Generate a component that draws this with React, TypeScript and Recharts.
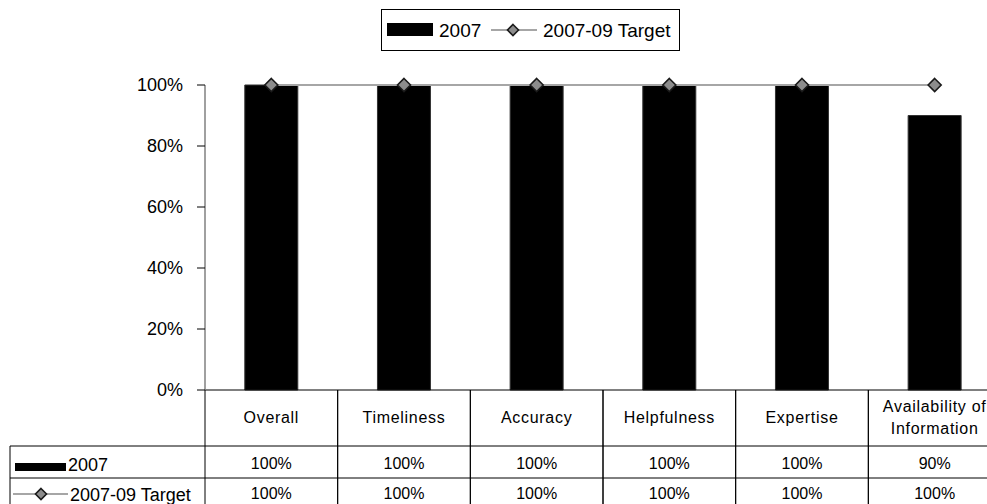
import React from "react";
import { ComposedChart, Bar, Line, XAxis, YAxis } from "recharts";

const categories = [
  "Overall",
  "Timeliness",
  "Accuracy",
  "Helpfulness",
  "Expertise",
  "Availability of Information",
];
const actual2007 = [100, 100, 100, 100, 100, 90];
const target0709 = [100, 100, 100, 100, 100, 100];
const yTicks = [0, 20, 40, 60, 80, 100];

const SERIES_BAR = "2007";
const SERIES_LINE = "2007-09 Target";

const data = categories.map((name, i) => ({
  name,
  actual: actual2007[i],
  target: target0709[i],
}));

const FONT = "'Liberation Sans', Arial, sans-serif";
const CHART_W = 1010;
const CHART_H = 504;
const MARGIN = { top: 85, right: 9, left: 145, bottom: 0 };
const Y_AXIS_W = 60;
const X_AXIS_H = 114;
const PLOT_W = CHART_W - MARGIN.left - Y_AXIS_W - MARGIN.right;
const BW = PLOT_W / categories.length;

const pct = (v: number) => `${v}%`;

const wrap = (s: string) => {
  if (s.length <= 14) return [s];
  const cut = s.lastIndexOf(" ", 16);
  return [s.slice(0, cut), s.slice(cut + 1)];
};

const Diamond = ({ cx, cy, r = 6.5 }: { cx: number; cy: number; r?: number }) => (
  <path
    d={`M${cx},${cy - r}L${cx + r},${cy}L${cx},${cy + r}L${cx - r},${cy}Z`}
    fill="#8c8c8c"
    stroke="#1a1a1a"
    strokeWidth={1.6}
  />
);

// x-axis tick doubles as a column of the data table under the plot
const TableTick = (props: any) => {
  const { x, y, payload } = props;
  const i = payload.index;
  const left = x - BW / 2;
  const right = x + BW / 2;
  const r1 = y + 56;
  const r2 = y + 88;
  const r3 = y + 122;
  const lines = wrap(categories[i]);
  const ln = { stroke: "#000", strokeWidth: 1 };
  return (
    <g fontFamily={FONT} fill="#000">
      <line x1={left} y1={y} x2={left} y2={r3} {...ln} />
      <line x1={right} y1={y} x2={right} y2={r3} {...ln} />
      <line x1={left} y1={r1} x2={right} y2={r1} {...ln} />
      <line x1={left} y1={r2} x2={right} y2={r2} {...ln} />
      {lines.map((t, k) => (
        <text
          key={k}
          x={x}
          y={lines.length === 1 ? y + 27 : y + 16 + k * 22}
          textAnchor="middle"
          dominantBaseline="central"
          fontSize={16}
          letterSpacing={0.7}
        >
          {t}
        </text>
      ))}
      <text x={x} y={y + 73} textAnchor="middle" dominantBaseline="central" fontSize={16}>
        {pct(actual2007[i])}
      </text>
      <text x={x} y={y + 103} textAnchor="middle" dominantBaseline="central" fontSize={16}>
        {pct(target0709[i])}
      </text>
      {i === 0 && (
        <g>
          <line x1={10} y1={r1} x2={left} y2={r1} {...ln} />
          <line x1={10} y1={r2} x2={left} y2={r2} {...ln} />
          <line x1={10} y1={r1} x2={10} y2={r3} {...ln} />
          <rect x={15} y={y + 73} width={51} height={8} fill="#000" />
          <text x={68} y={y + 75} dominantBaseline="central" fontSize={18}>
            {SERIES_BAR}
          </text>
          <line x1={13} y1={y + 104} x2={68} y2={y + 104} stroke="#a6a6a6" strokeWidth={2} />
          <Diamond cx={41} cy={y + 104} r={5.5} />
          <text x={70} y={y + 105} dominantBaseline="central" fontSize={18}>
            {SERIES_LINE}
          </text>
        </g>
      )}
    </g>
  );
};

const TopLegend = () => (
  <div
    style={{
      position: "absolute",
      left: 381,
      top: 9,
      width: 299,
      height: 42,
      border: "1px solid #000",
      boxSizing: "border-box",
    }}
  >
    <svg width={299} height={42} style={{ position: "absolute", left: -1, top: -1 }}>
      <rect x={6} y={14} width={46} height={13} fill="#000" />
      <text x={58} y={21} dominantBaseline="central" fontSize={19} fontFamily={FONT}>
        {SERIES_BAR}
      </text>
      <line x1={110} y1={21} x2={156} y2={21} stroke="#a6a6a6" strokeWidth={2} />
      <Diamond cx={132} cy={21} r={5.5} />
      <text x={162} y={21} dominantBaseline="central" fontSize={19} fontFamily={FONT}>
        {SERIES_LINE}
      </text>
    </svg>
  </div>
);

export default function App() {
  return (
    <div
      style={{
        position: "fixed",
        left: 0,
        top: 0,
        width: 987,
        height: 504,
        overflow: "hidden",
        background: "#fff",
      }}
    >
      <ComposedChart
        width={CHART_W}
        height={CHART_H}
        data={data}
        margin={MARGIN}
        barCategoryGap="30%"
        style={{ fontFamily: FONT }}
      >
        <XAxis
          dataKey="name"
          height={X_AXIS_H}
          interval={0}
          tickSize={0}
          tickMargin={0}
          tickLine={false}
          axisLine={{ stroke: "#000", strokeWidth: 1 }}
          tick={<TableTick />}
        />
        <YAxis
          width={Y_AXIS_W}
          domain={[0, 100]}
          ticks={yTicks}
          tickFormatter={pct}
          tickSize={8}
          tickMargin={14}
          axisLine={{ stroke: "#808080", strokeWidth: 1.5 }}
          tickLine={{ stroke: "#000", strokeWidth: 1 }}
          tick={{ fill: "#000", fontSize: 18, fontFamily: FONT }}
        />
        <Bar
          dataKey="actual"
          name={SERIES_BAR}
          fill="#000"
          stroke="#333"
          strokeWidth={1}
          isAnimationActive={false}
        />
        <Line
          dataKey="target"
          name={SERIES_LINE}
          stroke="#a6a6a6"
          strokeWidth={2}
          dot={(p: any) => <Diamond key={p.index} cx={p.cx} cy={p.cy} />}
          activeDot={false}
          isAnimationActive={false}
        />
      </ComposedChart>
      <TopLegend />
    </div>
  );
}
